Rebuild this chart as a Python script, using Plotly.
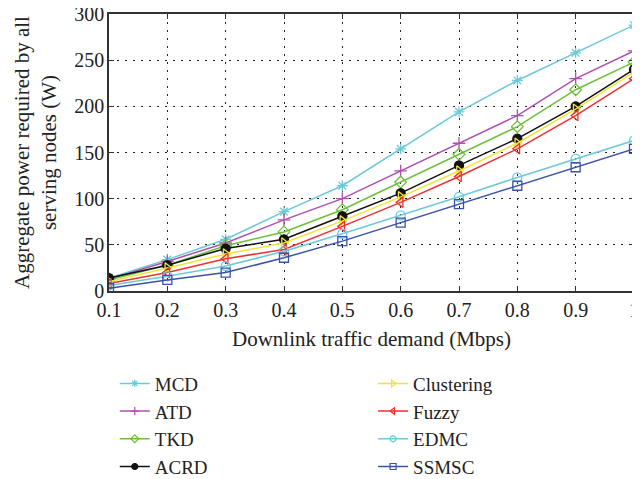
import plotly.graph_objects as go

x_vals = [0.1, 0.2, 0.3, 0.4, 0.5, 0.6, 0.7, 0.8, 0.9, 1.0]
x_labels = ["0.1", "0.2", "0.3", "0.4", "0.5", "0.6", "0.7", "0.8", "0.9", "1"]
y_ticks = [0, 50, 100, 150, 200, 250, 300]
mcd = [14, 34, 56, 86, 114, 154, 194, 228, 258, 288]
atd = [13, 32, 52, 77, 100, 130, 160, 190, 230, 260]
tkd = [12, 28, 49, 64, 88, 118, 148, 178, 218, 248]
acrd = [14, 28, 46, 56, 81, 106, 136, 165, 200, 240]
clustering = [10, 25, 40, 52, 76, 102, 130, 160, 197, 237]
fuzzy = [8, 20, 35, 45, 70, 96, 124, 154, 190, 230]
edmc = [6, 16, 27, 43, 62, 82, 102, 123, 143, 163]
ssmsc = [3, 12, 20, 36, 54, 74, 94, 114, 134, 154]

series = [
    ("MCD", mcd, "#6cc9d9", "asterisk-open", "legend"),
    ("ATD", atd, "#b04fb0", "cross-thin-open", "legend"),
    ("TKD", tkd, "#6cbf3c", "diamond-open", "legend"),
    ("ACRD", acrd, "#111111", "circle", "legend"),
    ("Clustering", clustering, "#f0e43a", "triangle-right-open", "legend2"),
    ("Fuzzy", fuzzy, "#f03030", "triangle-left-open", "legend2"),
    ("EDMC", edmc, "#6cc9d9", "circle-open", "legend2"),
    ("SSMSC", ssmsc, "#3a52a8", "square-open", "legend2"),
]

font_family = "Liberation Serif, Times New Roman, serif"

fig = go.Figure()
for name, vals, color, sym, leg in series:
    fig.add_trace(go.Scatter(
        x=x_vals, y=vals, name=name, mode="lines+markers",
        line=dict(color=color, width=1.5),
        marker=dict(symbol=sym, size=9, color=color,
                    line=dict(color=color, width=1.3)),
        showlegend=False,
    ))
# legend-only entries with smaller markers
for name, vals, color, sym, leg in series:
    fig.add_trace(go.Scatter(
        x=[None], y=[None], name=name, mode="lines+markers",
        line=dict(color=color, width=1.5),
        marker=dict(symbol=sym, size=6, color=color,
                    line=dict(color=color, width=1.2)),
        legend=leg, showlegend=True,
    ))

axis_common = dict(
    showline=True, linecolor="#333333", linewidth=1.5, mirror="ticks",
    ticks="inside", ticklen=5, tickcolor="#333333",
    showgrid=True, gridcolor="#222222", griddash="2px,6px", gridwidth=1,
    zeroline=False, automargin=False, ticklabeloverflow="allow",
    tickfont=dict(family=font_family, size=20, color="#222222"),
)

legend_common = dict(
    yref="container", y=0.243, yanchor="top", xanchor="left",
    font=dict(family=font_family, size=19),
    tracegroupgap=0, itemwidth=30, bgcolor="rgba(0,0,0,0)",
)

fig.update_layout(
    width=632, height=471,
    margin=dict(l=101, r=6, t=6, b=188),
    paper_bgcolor="white", plot_bgcolor="white",
    font=dict(family=font_family, size=20, color="#222222"),
    xaxis=dict(
        range=[0.1, 1.0], tickvals=x_vals, ticktext=x_labels,
        title=dict(text="Downlink traffic demand (Mbps)", standoff=12,
                   font=dict(family=font_family, size=21)),
        **axis_common,
    ),
    yaxis=dict(
        range=[0, 300], tickvals=y_ticks,
        ticklabelstandoff=-1,
        title=dict(text="Aggregate power required by all<br>serving nodes (W)",
                   standoff=12, font=dict(family=font_family, size=21)),
        **axis_common,
    ),
    legend=dict(x=0.011, **legend_common),
    legend2=dict(x=0.503, **legend_common),
)

fig.write_html("out.html")
